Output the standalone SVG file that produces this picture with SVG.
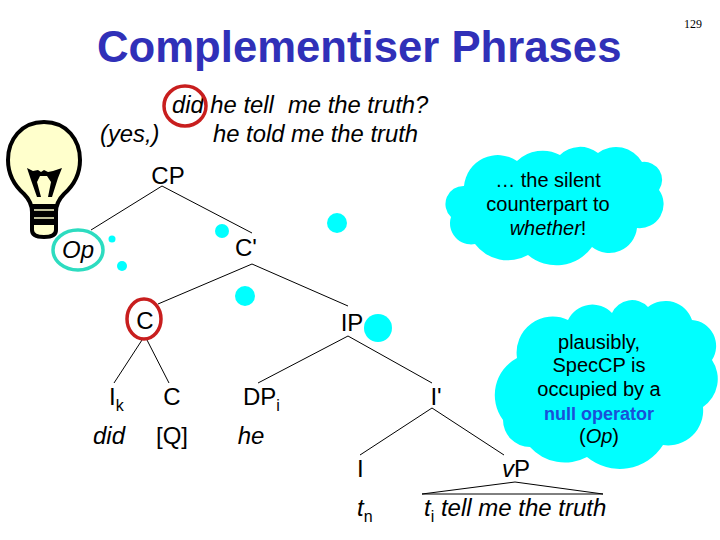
<svg xmlns="http://www.w3.org/2000/svg" width="720" height="540" viewBox="0 0 720 540">
<style>
text{font-family:"Liberation Sans",Arial,sans-serif;font-size:24px;fill:#000}
.i{font-style:italic}
.m{text-anchor:middle}
.s{font-size:16px}
.c{font-size:20px;text-anchor:middle}
.q{font-size:23.8px}
.l{stroke:#000;stroke-width:1;fill:none}
.d,.cloud{fill:#00ffff;stroke:none}
</style>
<rect width="720" height="540" fill="#fff"/>
<text id="title" x="97" y="62" style="font-size:43.7px;font-weight:bold;fill:#3030b8">Complementiser Phrases</text>
<text id="page" x="693" y="28" class="m" style="font-family:'Liberation Serif',serif;font-size:12px">129</text>
<g id="dots">
<circle class="d" cx="337" cy="223" r="10"/><circle class="d" cx="222" cy="231" r="7"/><circle class="d" cx="112" cy="239" r="3.5"/><circle class="d" cx="122" cy="266" r="5"/><circle class="d" cx="245" cy="296" r="10"/><circle class="d" cx="378" cy="328" r="14"/>
</g>
<g id="bulb">
<path d="M44 122C21 122 8 140 8 160C8 175 15 186 24 194C29 199 32 204 32 212L32 230C32 235 37 237 44 237C51 237 56 235 56 230L56 212C56 204 59 199 64 194C73 186 80 175 80 160C80 140 67 122 44 122Z" fill="#ffffcc" stroke="#000" stroke-width="4"/>
<path d="M31 204H57V225H31Z" fill="#000"/><path d="M34 210H54M34 218H54" stroke="#ffffcc" stroke-width="1.5"/>
<path d="M27 168L33 171L38 170L41 172L44 170L48 172L53 171L62 168L58 178L52 197L48 197L51 182L47 176H40L37 182L41 197L37 197L31 180Z" fill="#000"/>
</g>
<g id="connectors" class="l">
<path d="M91 230L162 186L252 233M158 304L252 264L348 306M114 383L142 340M147 340L169 383M258 383L348 336L432 383M360 455L432 408L504 455M422 494L515 482L603 494H422"/>
</g>
<path id="cloud1" class="cloud" d="M464 186A34 34 0 0 1 517 161A37 37 0 0 1 560 155A29 29 0 0 1 598 153A30 30 0 0 1 642 162A18 18 0 0 1 659 190A24 24 0 0 1 637 228A28 28 0 0 1 592 247A44 44 0 0 1 528 255A41 41 0 0 1 475 244A21 21 0 0 1 451 217A18 18 0 0 1 464 186Z"/>
<path id="cloud2" class="cloud" d="M517 358A36 36 0 0 1 568 320A27 27 0 0 1 612 313A22 22 0 0 1 648 307A28 28 0 0 1 692 320A26 26 0 0 1 712 360A34 34 0 0 1 703 407A35 35 0 0 1 663 445A51 51 0 0 1 587 457A47 47 0 0 1 530 447A27 27 0 0 1 503 420A42 42 0 0 1 517 358Z"/>
<g id="sentence"><text class="i q" x="172" y="113">did he tell<tspan x="288">me the truth?</tspan></text><text class="i q" x="100" y="142">(yes,)</text><text class="i q" x="213" y="142">he told me the truth</text>
<ellipse cx="185" cy="106" rx="21" ry="20" fill="none" stroke="#c81e1e" stroke-width="3.5"/></g>
<g id="cp"><text class="m" x="168" y="184">CP</text></g>
<g id="op"><ellipse cx="78" cy="250" rx="25" ry="20" fill="none" stroke="#2ddcc0" stroke-width="3.5"/><text class="i m" x="78" y="258">Op</text></g>
<g id="cbar"><text class="m" x="246" y="256">C'</text></g>
<g id="c1"><ellipse cx="144" cy="319" rx="17" ry="20" fill="none" stroke="#c81e1e" stroke-width="3.5"/><text class="m" x="145" y="329">C</text></g>
<g id="ip"><text class="m" x="352" y="331">IP</text></g>
<g id="ik"><text x="109" y="405">I<tspan class="s" dy="6">k</tspan></text></g>
<g id="c2"><text class="m" x="172" y="405">C</text></g>
<g id="dp"><text x="243" y="405">DP<tspan class="s" dy="6">i</tspan></text></g>
<g id="ibar"><text class="m" x="436" y="405">I'</text></g>
<g id="did"><text class="i m" x="109" y="444">did</text></g>
<g id="q"><text class="m" x="172" y="444">[Q]</text></g>
<g id="he"><text class="i m" x="251" y="444">he</text></g>
<g id="i"><text x="357" y="477">I</text></g>
<g id="tn"><text class="i" x="357" y="516">t<tspan class="s" dy="6" style="font-style:normal">n</tspan></text></g>
<g id="vp"><text class="m" x="516" y="477"><tspan class="i">v</tspan>P</text></g>
<g id="ti"><text class="i" x="424" y="516">t<tspan class="s" dy="6" style="font-style:normal">i</tspan><tspan dy="-6"> tell me the truth</tspan></text></g>
<g id="note1"><text class="c" x="548" y="187">… the silent</text><text class="c" x="548" y="211">counterpart to</text><text class="c" x="548" y="235"><tspan class="i">whether</tspan>!</text></g>
<g id="note2"><text class="c" x="599" y="349">plausibly,</text><text class="c" x="599" y="372">SpecCP is</text><text class="c" x="599" y="396">occupied by a</text><text class="c" x="599" y="420" style="font-weight:bold;fill:#1a50d8;font-size:18px">null operator</text><text class="c" x="599" y="443">(<tspan class="i">Op</tspan>)</text></g>
</svg>
